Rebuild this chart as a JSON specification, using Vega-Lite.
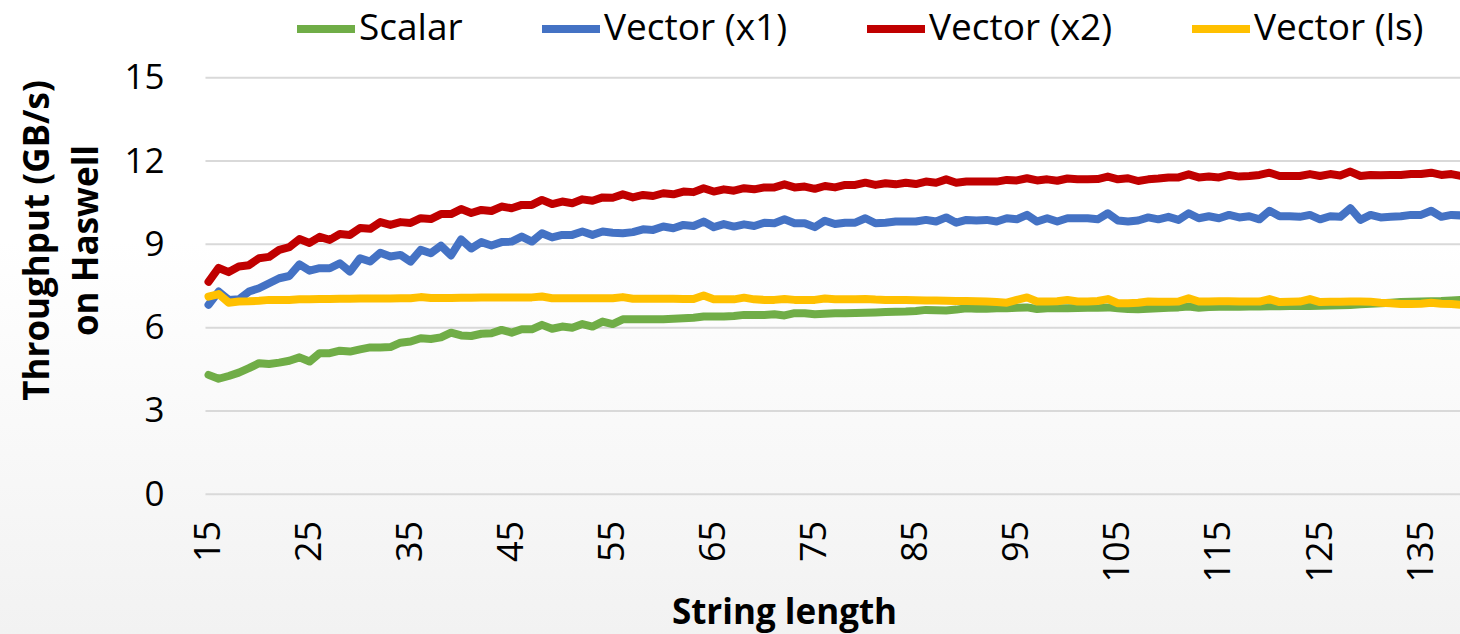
{
  "$schema": "https://vega.github.io/schema/vega-lite/v6.json",
  "width": 1460,
  "height": 634,
  "autosize": {"type": "none"},
  "padding": 0,
  "background": "#ffffff",
  "config": {
    "view": {
      "stroke": null,
      "fill": {"gradient": "linear", "x1": 0, "y1": 0, "x2": 0, "y2": 1, "stops": [{"offset": 0, "color": "#ffffff"}, {"offset": 0.38, "color": "#ffffff"}, {"offset": 1, "color": "#f2f2f2"}]}
    },
    "font": "Open Sans"
  },
  "layer": [
    {
      "data": {"values": [{"tick": 0}, {"tick": 3}, {"tick": 6}, {"tick": 9}, {"tick": 12}, {"tick": 15}]},
      "mark": {"type": "rule", "color": "#d9d9d9", "strokeWidth": 2},
      "encoding": {
        "y": {"field": "tick", "type": "quantitative", "scale": {"domain": [0, 15], "range": [494.3, 77.7], "nice": false, "zero": false}},
        "x": {"datum": 14.7, "type": "quantitative", "scale": {"domain": [15, 139], "range": [208.5, 1461.5], "nice": false, "zero": false}},
        "x2": {"datum": 139.6}
      }
    },
    {
      "data": {"values": [
{"length":15,"series":"Scalar","gbps":4.3},{"length":16,"series":"Scalar","gbps":4.16},{"length":17,"series":"Scalar","gbps":4.26},{"length":18,"series":"Scalar","gbps":4.38},{"length":19,"series":"Scalar","gbps":4.54},{"length":20,"series":"Scalar","gbps":4.72},{"length":21,"series":"Scalar","gbps":4.69},{"length":22,"series":"Scalar","gbps":4.74},{"length":23,"series":"Scalar","gbps":4.81},{"length":24,"series":"Scalar","gbps":4.93},{"length":25,"series":"Scalar","gbps":4.78},{"length":26,"series":"Scalar","gbps":5.08},{"length":27,"series":"Scalar","gbps":5.08},{"length":28,"series":"Scalar","gbps":5.17},{"length":29,"series":"Scalar","gbps":5.14},{"length":30,"series":"Scalar","gbps":5.22},{"length":31,"series":"Scalar","gbps":5.29},{"length":32,"series":"Scalar","gbps":5.29},{"length":33,"series":"Scalar","gbps":5.3},{"length":34,"series":"Scalar","gbps":5.46},{"length":35,"series":"Scalar","gbps":5.5},{"length":36,"series":"Scalar","gbps":5.62},{"length":37,"series":"Scalar","gbps":5.59},{"length":38,"series":"Scalar","gbps":5.65},{"length":39,"series":"Scalar","gbps":5.82},{"length":40,"series":"Scalar","gbps":5.72},{"length":41,"series":"Scalar","gbps":5.7},{"length":42,"series":"Scalar","gbps":5.78},{"length":43,"series":"Scalar","gbps":5.8},{"length":44,"series":"Scalar","gbps":5.92},{"length":45,"series":"Scalar","gbps":5.82},{"length":46,"series":"Scalar","gbps":5.94},{"length":47,"series":"Scalar","gbps":5.94},{"length":48,"series":"Scalar","gbps":6.1},{"length":49,"series":"Scalar","gbps":5.96},{"length":50,"series":"Scalar","gbps":6.04},{"length":51,"series":"Scalar","gbps":6.0},{"length":52,"series":"Scalar","gbps":6.13},{"length":53,"series":"Scalar","gbps":6.04},{"length":54,"series":"Scalar","gbps":6.22},{"length":55,"series":"Scalar","gbps":6.13},{"length":56,"series":"Scalar","gbps":6.3},{"length":57,"series":"Scalar","gbps":6.3},{"length":58,"series":"Scalar","gbps":6.3},{"length":59,"series":"Scalar","gbps":6.3},{"length":60,"series":"Scalar","gbps":6.3},{"length":61,"series":"Scalar","gbps":6.32},{"length":62,"series":"Scalar","gbps":6.34},{"length":63,"series":"Scalar","gbps":6.36},{"length":64,"series":"Scalar","gbps":6.4},{"length":65,"series":"Scalar","gbps":6.4},{"length":66,"series":"Scalar","gbps":6.4},{"length":67,"series":"Scalar","gbps":6.42},{"length":68,"series":"Scalar","gbps":6.46},{"length":69,"series":"Scalar","gbps":6.46},{"length":70,"series":"Scalar","gbps":6.46},{"length":71,"series":"Scalar","gbps":6.48},{"length":72,"series":"Scalar","gbps":6.44},{"length":73,"series":"Scalar","gbps":6.52},{"length":74,"series":"Scalar","gbps":6.52},{"length":75,"series":"Scalar","gbps":6.48},{"length":76,"series":"Scalar","gbps":6.5},{"length":77,"series":"Scalar","gbps":6.52},{"length":78,"series":"Scalar","gbps":6.52},{"length":79,"series":"Scalar","gbps":6.53},{"length":80,"series":"Scalar","gbps":6.54},{"length":81,"series":"Scalar","gbps":6.55},{"length":82,"series":"Scalar","gbps":6.56},{"length":83,"series":"Scalar","gbps":6.57},{"length":84,"series":"Scalar","gbps":6.58},{"length":85,"series":"Scalar","gbps":6.6},{"length":86,"series":"Scalar","gbps":6.64},{"length":87,"series":"Scalar","gbps":6.63},{"length":88,"series":"Scalar","gbps":6.62},{"length":89,"series":"Scalar","gbps":6.65},{"length":90,"series":"Scalar","gbps":6.7},{"length":91,"series":"Scalar","gbps":6.68},{"length":92,"series":"Scalar","gbps":6.68},{"length":93,"series":"Scalar","gbps":6.7},{"length":94,"series":"Scalar","gbps":6.7},{"length":95,"series":"Scalar","gbps":6.72},{"length":96,"series":"Scalar","gbps":6.73},{"length":97,"series":"Scalar","gbps":6.67},{"length":98,"series":"Scalar","gbps":6.7},{"length":99,"series":"Scalar","gbps":6.7},{"length":100,"series":"Scalar","gbps":6.7},{"length":101,"series":"Scalar","gbps":6.71},{"length":102,"series":"Scalar","gbps":6.72},{"length":103,"series":"Scalar","gbps":6.72},{"length":104,"series":"Scalar","gbps":6.73},{"length":105,"series":"Scalar","gbps":6.7},{"length":106,"series":"Scalar","gbps":6.67},{"length":107,"series":"Scalar","gbps":6.66},{"length":108,"series":"Scalar","gbps":6.68},{"length":109,"series":"Scalar","gbps":6.7},{"length":110,"series":"Scalar","gbps":6.72},{"length":111,"series":"Scalar","gbps":6.73},{"length":112,"series":"Scalar","gbps":6.76},{"length":113,"series":"Scalar","gbps":6.72},{"length":114,"series":"Scalar","gbps":6.74},{"length":115,"series":"Scalar","gbps":6.75},{"length":116,"series":"Scalar","gbps":6.75},{"length":117,"series":"Scalar","gbps":6.75},{"length":118,"series":"Scalar","gbps":6.76},{"length":119,"series":"Scalar","gbps":6.76},{"length":120,"series":"Scalar","gbps":6.77},{"length":121,"series":"Scalar","gbps":6.77},{"length":122,"series":"Scalar","gbps":6.78},{"length":123,"series":"Scalar","gbps":6.78},{"length":124,"series":"Scalar","gbps":6.78},{"length":125,"series":"Scalar","gbps":6.79},{"length":126,"series":"Scalar","gbps":6.8},{"length":127,"series":"Scalar","gbps":6.81},{"length":128,"series":"Scalar","gbps":6.82},{"length":129,"series":"Scalar","gbps":6.84},{"length":130,"series":"Scalar","gbps":6.86},{"length":131,"series":"Scalar","gbps":6.88},{"length":132,"series":"Scalar","gbps":6.9},{"length":133,"series":"Scalar","gbps":6.92},{"length":134,"series":"Scalar","gbps":6.93},{"length":135,"series":"Scalar","gbps":6.94},{"length":136,"series":"Scalar","gbps":6.95},{"length":137,"series":"Scalar","gbps":6.96},{"length":138,"series":"Scalar","gbps":6.98},{"length":139,"series":"Scalar","gbps":7.0},
{"length":15,"series":"Vector (x1)","gbps":6.82},{"length":16,"series":"Vector (x1)","gbps":7.3},{"length":17,"series":"Vector (x1)","gbps":7.0},{"length":18,"series":"Vector (x1)","gbps":7.02},{"length":19,"series":"Vector (x1)","gbps":7.3},{"length":20,"series":"Vector (x1)","gbps":7.42},{"length":21,"series":"Vector (x1)","gbps":7.6},{"length":22,"series":"Vector (x1)","gbps":7.78},{"length":23,"series":"Vector (x1)","gbps":7.86},{"length":24,"series":"Vector (x1)","gbps":8.28},{"length":25,"series":"Vector (x1)","gbps":8.05},{"length":26,"series":"Vector (x1)","gbps":8.14},{"length":27,"series":"Vector (x1)","gbps":8.14},{"length":28,"series":"Vector (x1)","gbps":8.32},{"length":29,"series":"Vector (x1)","gbps":8.02},{"length":30,"series":"Vector (x1)","gbps":8.5},{"length":31,"series":"Vector (x1)","gbps":8.38},{"length":32,"series":"Vector (x1)","gbps":8.7},{"length":33,"series":"Vector (x1)","gbps":8.56},{"length":34,"series":"Vector (x1)","gbps":8.62},{"length":35,"series":"Vector (x1)","gbps":8.38},{"length":36,"series":"Vector (x1)","gbps":8.8},{"length":37,"series":"Vector (x1)","gbps":8.68},{"length":38,"series":"Vector (x1)","gbps":8.95},{"length":39,"series":"Vector (x1)","gbps":8.6},{"length":40,"series":"Vector (x1)","gbps":9.18},{"length":41,"series":"Vector (x1)","gbps":8.85},{"length":42,"series":"Vector (x1)","gbps":9.08},{"length":43,"series":"Vector (x1)","gbps":8.96},{"length":44,"series":"Vector (x1)","gbps":9.08},{"length":45,"series":"Vector (x1)","gbps":9.1},{"length":46,"series":"Vector (x1)","gbps":9.28},{"length":47,"series":"Vector (x1)","gbps":9.1},{"length":48,"series":"Vector (x1)","gbps":9.4},{"length":49,"series":"Vector (x1)","gbps":9.25},{"length":50,"series":"Vector (x1)","gbps":9.34},{"length":51,"series":"Vector (x1)","gbps":9.34},{"length":52,"series":"Vector (x1)","gbps":9.46},{"length":53,"series":"Vector (x1)","gbps":9.34},{"length":54,"series":"Vector (x1)","gbps":9.46},{"length":55,"series":"Vector (x1)","gbps":9.42},{"length":56,"series":"Vector (x1)","gbps":9.4},{"length":57,"series":"Vector (x1)","gbps":9.44},{"length":58,"series":"Vector (x1)","gbps":9.54},{"length":59,"series":"Vector (x1)","gbps":9.52},{"length":60,"series":"Vector (x1)","gbps":9.64},{"length":61,"series":"Vector (x1)","gbps":9.58},{"length":62,"series":"Vector (x1)","gbps":9.7},{"length":63,"series":"Vector (x1)","gbps":9.66},{"length":64,"series":"Vector (x1)","gbps":9.82},{"length":65,"series":"Vector (x1)","gbps":9.62},{"length":66,"series":"Vector (x1)","gbps":9.73},{"length":67,"series":"Vector (x1)","gbps":9.64},{"length":68,"series":"Vector (x1)","gbps":9.72},{"length":69,"series":"Vector (x1)","gbps":9.66},{"length":70,"series":"Vector (x1)","gbps":9.78},{"length":71,"series":"Vector (x1)","gbps":9.76},{"length":72,"series":"Vector (x1)","gbps":9.9},{"length":73,"series":"Vector (x1)","gbps":9.76},{"length":74,"series":"Vector (x1)","gbps":9.76},{"length":75,"series":"Vector (x1)","gbps":9.62},{"length":76,"series":"Vector (x1)","gbps":9.85},{"length":77,"series":"Vector (x1)","gbps":9.73},{"length":78,"series":"Vector (x1)","gbps":9.78},{"length":79,"series":"Vector (x1)","gbps":9.78},{"length":80,"series":"Vector (x1)","gbps":9.94},{"length":81,"series":"Vector (x1)","gbps":9.76},{"length":82,"series":"Vector (x1)","gbps":9.78},{"length":83,"series":"Vector (x1)","gbps":9.82},{"length":84,"series":"Vector (x1)","gbps":9.82},{"length":85,"series":"Vector (x1)","gbps":9.82},{"length":86,"series":"Vector (x1)","gbps":9.88},{"length":87,"series":"Vector (x1)","gbps":9.82},{"length":88,"series":"Vector (x1)","gbps":9.97},{"length":89,"series":"Vector (x1)","gbps":9.78},{"length":90,"series":"Vector (x1)","gbps":9.88},{"length":91,"series":"Vector (x1)","gbps":9.86},{"length":92,"series":"Vector (x1)","gbps":9.88},{"length":93,"series":"Vector (x1)","gbps":9.82},{"length":94,"series":"Vector (x1)","gbps":9.94},{"length":95,"series":"Vector (x1)","gbps":9.9},{"length":96,"series":"Vector (x1)","gbps":10.06},{"length":97,"series":"Vector (x1)","gbps":9.82},{"length":98,"series":"Vector (x1)","gbps":9.94},{"length":99,"series":"Vector (x1)","gbps":9.82},{"length":100,"series":"Vector (x1)","gbps":9.94},{"length":101,"series":"Vector (x1)","gbps":9.94},{"length":102,"series":"Vector (x1)","gbps":9.94},{"length":103,"series":"Vector (x1)","gbps":9.9},{"length":104,"series":"Vector (x1)","gbps":10.12},{"length":105,"series":"Vector (x1)","gbps":9.86},{"length":106,"series":"Vector (x1)","gbps":9.82},{"length":107,"series":"Vector (x1)","gbps":9.86},{"length":108,"series":"Vector (x1)","gbps":9.97},{"length":109,"series":"Vector (x1)","gbps":9.9},{"length":110,"series":"Vector (x1)","gbps":9.99},{"length":111,"series":"Vector (x1)","gbps":9.88},{"length":112,"series":"Vector (x1)","gbps":10.12},{"length":113,"series":"Vector (x1)","gbps":9.94},{"length":114,"series":"Vector (x1)","gbps":10.01},{"length":115,"series":"Vector (x1)","gbps":9.94},{"length":116,"series":"Vector (x1)","gbps":10.06},{"length":117,"series":"Vector (x1)","gbps":9.97},{"length":118,"series":"Vector (x1)","gbps":10.01},{"length":119,"series":"Vector (x1)","gbps":9.9},{"length":120,"series":"Vector (x1)","gbps":10.21},{"length":121,"series":"Vector (x1)","gbps":10.01},{"length":122,"series":"Vector (x1)","gbps":10.01},{"length":123,"series":"Vector (x1)","gbps":9.99},{"length":124,"series":"Vector (x1)","gbps":10.06},{"length":125,"series":"Vector (x1)","gbps":9.9},{"length":126,"series":"Vector (x1)","gbps":10.01},{"length":127,"series":"Vector (x1)","gbps":9.99},{"length":128,"series":"Vector (x1)","gbps":10.3},{"length":129,"series":"Vector (x1)","gbps":9.88},{"length":130,"series":"Vector (x1)","gbps":10.06},{"length":131,"series":"Vector (x1)","gbps":9.97},{"length":132,"series":"Vector (x1)","gbps":9.99},{"length":133,"series":"Vector (x1)","gbps":10.01},{"length":134,"series":"Vector (x1)","gbps":10.06},{"length":135,"series":"Vector (x1)","gbps":10.06},{"length":136,"series":"Vector (x1)","gbps":10.21},{"length":137,"series":"Vector (x1)","gbps":9.99},{"length":138,"series":"Vector (x1)","gbps":10.06},{"length":139,"series":"Vector (x1)","gbps":10.04},
{"length":15,"series":"Vector (x2)","gbps":7.65},{"length":16,"series":"Vector (x2)","gbps":8.15},{"length":17,"series":"Vector (x2)","gbps":8.0},{"length":18,"series":"Vector (x2)","gbps":8.2},{"length":19,"series":"Vector (x2)","gbps":8.25},{"length":20,"series":"Vector (x2)","gbps":8.5},{"length":21,"series":"Vector (x2)","gbps":8.55},{"length":22,"series":"Vector (x2)","gbps":8.8},{"length":23,"series":"Vector (x2)","gbps":8.9},{"length":24,"series":"Vector (x2)","gbps":9.19},{"length":25,"series":"Vector (x2)","gbps":9.05},{"length":26,"series":"Vector (x2)","gbps":9.27},{"length":27,"series":"Vector (x2)","gbps":9.16},{"length":28,"series":"Vector (x2)","gbps":9.37},{"length":29,"series":"Vector (x2)","gbps":9.34},{"length":30,"series":"Vector (x2)","gbps":9.59},{"length":31,"series":"Vector (x2)","gbps":9.56},{"length":32,"series":"Vector (x2)","gbps":9.8},{"length":33,"series":"Vector (x2)","gbps":9.7},{"length":34,"series":"Vector (x2)","gbps":9.8},{"length":35,"series":"Vector (x2)","gbps":9.77},{"length":36,"series":"Vector (x2)","gbps":9.94},{"length":37,"series":"Vector (x2)","gbps":9.91},{"length":38,"series":"Vector (x2)","gbps":10.09},{"length":39,"series":"Vector (x2)","gbps":10.09},{"length":40,"series":"Vector (x2)","gbps":10.27},{"length":41,"series":"Vector (x2)","gbps":10.13},{"length":42,"series":"Vector (x2)","gbps":10.24},{"length":43,"series":"Vector (x2)","gbps":10.2},{"length":44,"series":"Vector (x2)","gbps":10.36},{"length":45,"series":"Vector (x2)","gbps":10.3},{"length":46,"series":"Vector (x2)","gbps":10.42},{"length":47,"series":"Vector (x2)","gbps":10.42},{"length":48,"series":"Vector (x2)","gbps":10.6},{"length":49,"series":"Vector (x2)","gbps":10.45},{"length":50,"series":"Vector (x2)","gbps":10.54},{"length":51,"series":"Vector (x2)","gbps":10.48},{"length":52,"series":"Vector (x2)","gbps":10.62},{"length":53,"series":"Vector (x2)","gbps":10.57},{"length":54,"series":"Vector (x2)","gbps":10.69},{"length":55,"series":"Vector (x2)","gbps":10.68},{"length":56,"series":"Vector (x2)","gbps":10.8},{"length":57,"series":"Vector (x2)","gbps":10.69},{"length":58,"series":"Vector (x2)","gbps":10.78},{"length":59,"series":"Vector (x2)","gbps":10.74},{"length":60,"series":"Vector (x2)","gbps":10.84},{"length":61,"series":"Vector (x2)","gbps":10.8},{"length":62,"series":"Vector (x2)","gbps":10.9},{"length":63,"series":"Vector (x2)","gbps":10.88},{"length":64,"series":"Vector (x2)","gbps":11.02},{"length":65,"series":"Vector (x2)","gbps":10.9},{"length":66,"series":"Vector (x2)","gbps":10.98},{"length":67,"series":"Vector (x2)","gbps":10.93},{"length":68,"series":"Vector (x2)","gbps":11.02},{"length":69,"series":"Vector (x2)","gbps":10.98},{"length":70,"series":"Vector (x2)","gbps":11.05},{"length":71,"series":"Vector (x2)","gbps":11.05},{"length":72,"series":"Vector (x2)","gbps":11.16},{"length":73,"series":"Vector (x2)","gbps":11.05},{"length":74,"series":"Vector (x2)","gbps":11.08},{"length":75,"series":"Vector (x2)","gbps":11.0},{"length":76,"series":"Vector (x2)","gbps":11.1},{"length":77,"series":"Vector (x2)","gbps":11.05},{"length":78,"series":"Vector (x2)","gbps":11.14},{"length":79,"series":"Vector (x2)","gbps":11.14},{"length":80,"series":"Vector (x2)","gbps":11.22},{"length":81,"series":"Vector (x2)","gbps":11.14},{"length":82,"series":"Vector (x2)","gbps":11.2},{"length":83,"series":"Vector (x2)","gbps":11.16},{"length":84,"series":"Vector (x2)","gbps":11.22},{"length":85,"series":"Vector (x2)","gbps":11.17},{"length":86,"series":"Vector (x2)","gbps":11.26},{"length":87,"series":"Vector (x2)","gbps":11.22},{"length":88,"series":"Vector (x2)","gbps":11.34},{"length":89,"series":"Vector (x2)","gbps":11.22},{"length":90,"series":"Vector (x2)","gbps":11.26},{"length":91,"series":"Vector (x2)","gbps":11.26},{"length":92,"series":"Vector (x2)","gbps":11.26},{"length":93,"series":"Vector (x2)","gbps":11.26},{"length":94,"series":"Vector (x2)","gbps":11.32},{"length":95,"series":"Vector (x2)","gbps":11.3},{"length":96,"series":"Vector (x2)","gbps":11.38},{"length":97,"series":"Vector (x2)","gbps":11.3},{"length":98,"series":"Vector (x2)","gbps":11.34},{"length":99,"series":"Vector (x2)","gbps":11.29},{"length":100,"series":"Vector (x2)","gbps":11.37},{"length":101,"series":"Vector (x2)","gbps":11.34},{"length":102,"series":"Vector (x2)","gbps":11.34},{"length":103,"series":"Vector (x2)","gbps":11.35},{"length":104,"series":"Vector (x2)","gbps":11.44},{"length":105,"series":"Vector (x2)","gbps":11.34},{"length":106,"series":"Vector (x2)","gbps":11.38},{"length":107,"series":"Vector (x2)","gbps":11.28},{"length":108,"series":"Vector (x2)","gbps":11.34},{"length":109,"series":"Vector (x2)","gbps":11.37},{"length":110,"series":"Vector (x2)","gbps":11.41},{"length":111,"series":"Vector (x2)","gbps":11.41},{"length":112,"series":"Vector (x2)","gbps":11.52},{"length":113,"series":"Vector (x2)","gbps":11.41},{"length":114,"series":"Vector (x2)","gbps":11.44},{"length":115,"series":"Vector (x2)","gbps":11.41},{"length":116,"series":"Vector (x2)","gbps":11.5},{"length":117,"series":"Vector (x2)","gbps":11.44},{"length":118,"series":"Vector (x2)","gbps":11.46},{"length":119,"series":"Vector (x2)","gbps":11.5},{"length":120,"series":"Vector (x2)","gbps":11.58},{"length":121,"series":"Vector (x2)","gbps":11.46},{"length":122,"series":"Vector (x2)","gbps":11.46},{"length":123,"series":"Vector (x2)","gbps":11.46},{"length":124,"series":"Vector (x2)","gbps":11.53},{"length":125,"series":"Vector (x2)","gbps":11.46},{"length":126,"series":"Vector (x2)","gbps":11.53},{"length":127,"series":"Vector (x2)","gbps":11.48},{"length":128,"series":"Vector (x2)","gbps":11.62},{"length":129,"series":"Vector (x2)","gbps":11.46},{"length":130,"series":"Vector (x2)","gbps":11.5},{"length":131,"series":"Vector (x2)","gbps":11.49},{"length":132,"series":"Vector (x2)","gbps":11.5},{"length":133,"series":"Vector (x2)","gbps":11.5},{"length":134,"series":"Vector (x2)","gbps":11.53},{"length":135,"series":"Vector (x2)","gbps":11.53},{"length":136,"series":"Vector (x2)","gbps":11.58},{"length":137,"series":"Vector (x2)","gbps":11.5},{"length":138,"series":"Vector (x2)","gbps":11.53},{"length":139,"series":"Vector (x2)","gbps":11.46},
{"length":15,"series":"Vector (ls)","gbps":7.12},{"length":16,"series":"Vector (ls)","gbps":7.21},{"length":17,"series":"Vector (ls)","gbps":6.9},{"length":18,"series":"Vector (ls)","gbps":6.94},{"length":19,"series":"Vector (ls)","gbps":6.95},{"length":20,"series":"Vector (ls)","gbps":6.97},{"length":21,"series":"Vector (ls)","gbps":7.0},{"length":22,"series":"Vector (ls)","gbps":7.0},{"length":23,"series":"Vector (ls)","gbps":7.0},{"length":24,"series":"Vector (ls)","gbps":7.02},{"length":25,"series":"Vector (ls)","gbps":7.02},{"length":26,"series":"Vector (ls)","gbps":7.03},{"length":27,"series":"Vector (ls)","gbps":7.03},{"length":28,"series":"Vector (ls)","gbps":7.04},{"length":29,"series":"Vector (ls)","gbps":7.04},{"length":30,"series":"Vector (ls)","gbps":7.05},{"length":31,"series":"Vector (ls)","gbps":7.05},{"length":32,"series":"Vector (ls)","gbps":7.05},{"length":33,"series":"Vector (ls)","gbps":7.05},{"length":34,"series":"Vector (ls)","gbps":7.06},{"length":35,"series":"Vector (ls)","gbps":7.06},{"length":36,"series":"Vector (ls)","gbps":7.1},{"length":37,"series":"Vector (ls)","gbps":7.07},{"length":38,"series":"Vector (ls)","gbps":7.07},{"length":39,"series":"Vector (ls)","gbps":7.07},{"length":40,"series":"Vector (ls)","gbps":7.08},{"length":41,"series":"Vector (ls)","gbps":7.08},{"length":42,"series":"Vector (ls)","gbps":7.09},{"length":43,"series":"Vector (ls)","gbps":7.09},{"length":44,"series":"Vector (ls)","gbps":7.09},{"length":45,"series":"Vector (ls)","gbps":7.09},{"length":46,"series":"Vector (ls)","gbps":7.09},{"length":47,"series":"Vector (ls)","gbps":7.09},{"length":48,"series":"Vector (ls)","gbps":7.12},{"length":49,"series":"Vector (ls)","gbps":7.06},{"length":50,"series":"Vector (ls)","gbps":7.06},{"length":51,"series":"Vector (ls)","gbps":7.06},{"length":52,"series":"Vector (ls)","gbps":7.06},{"length":53,"series":"Vector (ls)","gbps":7.06},{"length":54,"series":"Vector (ls)","gbps":7.06},{"length":55,"series":"Vector (ls)","gbps":7.06},{"length":56,"series":"Vector (ls)","gbps":7.1},{"length":57,"series":"Vector (ls)","gbps":7.04},{"length":58,"series":"Vector (ls)","gbps":7.04},{"length":59,"series":"Vector (ls)","gbps":7.04},{"length":60,"series":"Vector (ls)","gbps":7.04},{"length":61,"series":"Vector (ls)","gbps":7.04},{"length":62,"series":"Vector (ls)","gbps":7.03},{"length":63,"series":"Vector (ls)","gbps":7.03},{"length":64,"series":"Vector (ls)","gbps":7.16},{"length":65,"series":"Vector (ls)","gbps":7.02},{"length":66,"series":"Vector (ls)","gbps":7.02},{"length":67,"series":"Vector (ls)","gbps":7.02},{"length":68,"series":"Vector (ls)","gbps":7.08},{"length":69,"series":"Vector (ls)","gbps":7.02},{"length":70,"series":"Vector (ls)","gbps":7.0},{"length":71,"series":"Vector (ls)","gbps":7.0},{"length":72,"series":"Vector (ls)","gbps":7.03},{"length":73,"series":"Vector (ls)","gbps":7.0},{"length":74,"series":"Vector (ls)","gbps":7.0},{"length":75,"series":"Vector (ls)","gbps":7.0},{"length":76,"series":"Vector (ls)","gbps":7.05},{"length":77,"series":"Vector (ls)","gbps":7.02},{"length":78,"series":"Vector (ls)","gbps":7.02},{"length":79,"series":"Vector (ls)","gbps":7.02},{"length":80,"series":"Vector (ls)","gbps":7.03},{"length":81,"series":"Vector (ls)","gbps":7.01},{"length":82,"series":"Vector (ls)","gbps":7.0},{"length":83,"series":"Vector (ls)","gbps":7.0},{"length":84,"series":"Vector (ls)","gbps":7.0},{"length":85,"series":"Vector (ls)","gbps":6.99},{"length":86,"series":"Vector (ls)","gbps":6.98},{"length":87,"series":"Vector (ls)","gbps":6.98},{"length":88,"series":"Vector (ls)","gbps":6.97},{"length":89,"series":"Vector (ls)","gbps":6.96},{"length":90,"series":"Vector (ls)","gbps":6.96},{"length":91,"series":"Vector (ls)","gbps":6.95},{"length":92,"series":"Vector (ls)","gbps":6.94},{"length":93,"series":"Vector (ls)","gbps":6.92},{"length":94,"series":"Vector (ls)","gbps":6.9},{"length":95,"series":"Vector (ls)","gbps":7.0},{"length":96,"series":"Vector (ls)","gbps":7.09},{"length":97,"series":"Vector (ls)","gbps":6.94},{"length":98,"series":"Vector (ls)","gbps":6.94},{"length":99,"series":"Vector (ls)","gbps":6.95},{"length":100,"series":"Vector (ls)","gbps":7.0},{"length":101,"series":"Vector (ls)","gbps":6.94},{"length":102,"series":"Vector (ls)","gbps":6.94},{"length":103,"series":"Vector (ls)","gbps":6.96},{"length":104,"series":"Vector (ls)","gbps":7.03},{"length":105,"series":"Vector (ls)","gbps":6.88},{"length":106,"series":"Vector (ls)","gbps":6.88},{"length":107,"series":"Vector (ls)","gbps":6.9},{"length":108,"series":"Vector (ls)","gbps":6.94},{"length":109,"series":"Vector (ls)","gbps":6.93},{"length":110,"series":"Vector (ls)","gbps":6.93},{"length":111,"series":"Vector (ls)","gbps":6.94},{"length":112,"series":"Vector (ls)","gbps":7.06},{"length":113,"series":"Vector (ls)","gbps":6.94},{"length":114,"series":"Vector (ls)","gbps":6.94},{"length":115,"series":"Vector (ls)","gbps":6.95},{"length":116,"series":"Vector (ls)","gbps":6.95},{"length":117,"series":"Vector (ls)","gbps":6.94},{"length":118,"series":"Vector (ls)","gbps":6.94},{"length":119,"series":"Vector (ls)","gbps":6.94},{"length":120,"series":"Vector (ls)","gbps":7.03},{"length":121,"series":"Vector (ls)","gbps":6.92},{"length":122,"series":"Vector (ls)","gbps":6.93},{"length":123,"series":"Vector (ls)","gbps":6.94},{"length":124,"series":"Vector (ls)","gbps":7.03},{"length":125,"series":"Vector (ls)","gbps":6.92},{"length":126,"series":"Vector (ls)","gbps":6.93},{"length":127,"series":"Vector (ls)","gbps":6.93},{"length":128,"series":"Vector (ls)","gbps":6.94},{"length":129,"series":"Vector (ls)","gbps":6.94},{"length":130,"series":"Vector (ls)","gbps":6.93},{"length":131,"series":"Vector (ls)","gbps":6.9},{"length":132,"series":"Vector (ls)","gbps":6.88},{"length":133,"series":"Vector (ls)","gbps":6.85},{"length":134,"series":"Vector (ls)","gbps":6.85},{"length":135,"series":"Vector (ls)","gbps":6.86},{"length":136,"series":"Vector (ls)","gbps":6.9},{"length":137,"series":"Vector (ls)","gbps":6.86},{"length":138,"series":"Vector (ls)","gbps":6.85},{"length":139,"series":"Vector (ls)","gbps":6.82}
      ]},
      "mark": {"type": "line", "strokeWidth": 8, "strokeJoin": "round", "strokeCap": "round"},
      "encoding": {
        "x": {
          "field": "length", "type": "quantitative",
          "scale": {"domain": [15, 139], "range": [208.5, 1461.5], "nice": false, "zero": false},
          "axis": {
            "values": [15, 25, 35, 45, 55, 65, 75, 85, 95, 105, 115, 125, 135],
            "offset": -139.7,
            "domain": false, "ticks": false, "grid": false,
            "labelAngle": 270, "labelAlign": "right", "labelBaseline": "middle",
            "labelPadding": 26, "labelFont": "Open Sans", "labelFontSize": 36, "labelColor": "#000000",
            "labelOverlap": false, "labelFlush": false,
            "title": "String length", "titleFont": "Open Sans", "titleFontSize": 35, "titleFontWeight": "bold", "titleColor": "#000000",
            "titleX": 784, "titleY": 128.7, "titleAlign": "center", "titleBaseline": "alphabetic", "titleAnchor": null
          }
        },
        "y": {
          "field": "gbps", "type": "quantitative",
          "scale": {"domain": [0, 15], "range": [494.3, 77.7], "nice": false, "zero": false},
          "axis": {
            "values": [0, 3, 6, 9, 12, 15],
            "offset": -205,
            "domain": false, "ticks": false, "grid": false,
            "labelPadding": 41, "labelFont": "Open Sans", "labelFontSize": 35, "labelColor": "#000000",
            "labelOverlap": false, "labelFlush": false, "labelBaseline": "middle",
            "title": ["Throughput (GB/s)", "on Haswell"], "titleFont": "Open Sans", "titleFontSize": 35, "titleFontWeight": "bold", "titleColor": "#000000",
            "titleAngle": 270, "titleX": -168, "titleY": 240, "titleAlign": "center", "titleBaseline": "middle", "titleLineHeight": 49, "titleAnchor": null
          }
        },
        "color": {
          "field": "series", "type": "nominal",
          "scale": {"domain": ["Scalar", "Vector (x1)", "Vector (x2)", "Vector (ls)"], "range": ["#70AD47", "#4472C4", "#C00000", "#FFC000"]},
          "legend": {
            "orient": "none", "legendX": 293, "legendY": -4, "direction": "horizontal", "title": null,
            "symbolType": "stroke", "symbolSize": 3364, "symbolStrokeWidth": 8,
            "labelFont": "Open Sans", "labelFontSize": 37, "labelColor": "#000000", "labelOffset": 0,
            "columnPadding": 63, "padding": 0, "labelLimit": 400
          }
        }
      }
    }
  ]
}
